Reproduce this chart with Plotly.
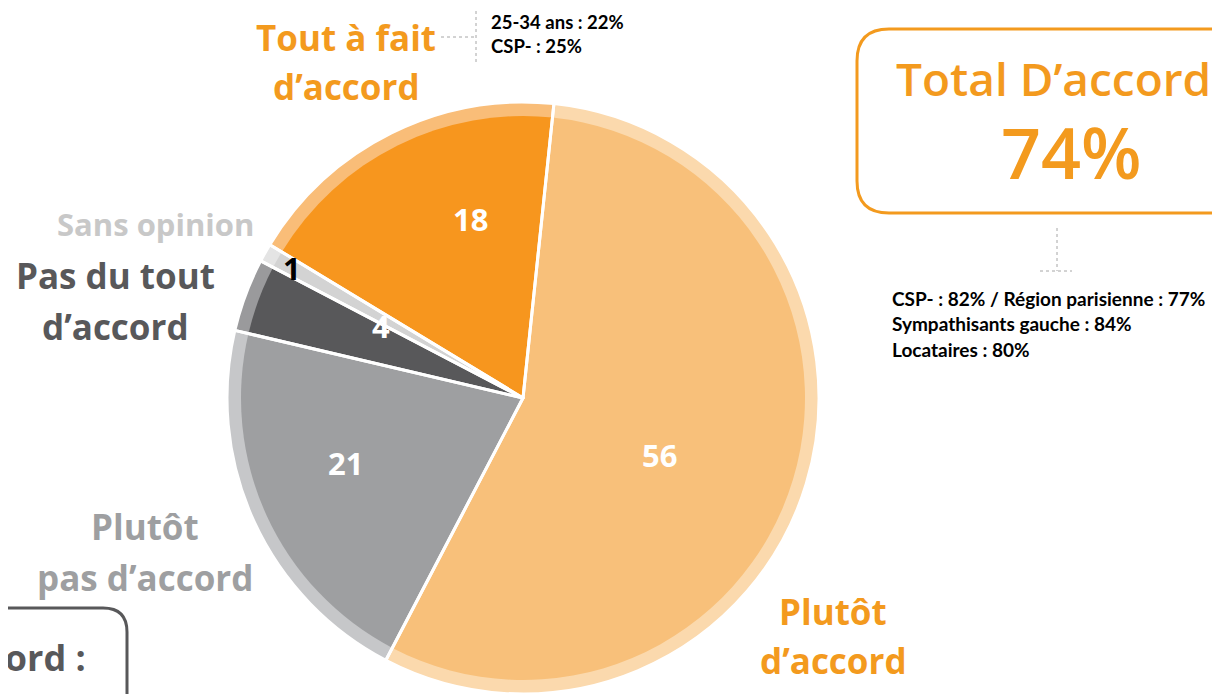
import math

import plotly.graph_objects as go

# data
labels = ["Plutôt d'accord", "Plutôt pas d'accord", "Pas du tout d'accord",
          "Sans opinion", "Tout à fait d'accord"]
values = [56, 21, 4, 1, 18]
slice_colors = ["#F8C07A", "#9E9FA1", "#58585A", "#D3D3D3", "#F7961E"]
ring_colors = ["#FBD9AD", "#C6C7C9", "#9A9A9C", "#E4E4E4", "#F9BD78"]
value_colors = ["white", "white", "white", "black", "white"]
label_radius = [0.525, 0.67, 0.565, 0.94, 0.66]  # fraction of radius for value text
label_turn = [6, 4.5, 6.5, 0, 10]                 # small angular nudge (deg)
total_agree = 74
sub_notes_top = ["25-34 ans : 22%", "CSP- : 25%"]
sub_notes_total = ["CSP- : 82% / Région parisienne : 77%",
                   "Sympathisants gauche : 84%", "Locataires : 80%"]

W, H = 1220, 694
OFF = 8                    # page body margin
CX, CY = 523, 398          # pie centre in screen pixels (from top)
R_IN, R_OUT = 282, 296
ROT = 6

ORANGE = "#F39A1E"
FONT = "Open Sans, Lato, sans-serif"
SMALL = "Lato, Open Sans, sans-serif"


def dom(r):
    cx = CX - OFF
    cy_b = H - (CY - OFF)
    return dict(x=[(cx - r) / W, (cx + r) / W],
                y=[max(0, (cy_b - r) / H), min(1, (cy_b + r) / H)])


fig = go.Figure()
# invisible trace so the pixel-coordinate axes exist
fig.add_trace(go.Scatter(x=[0], y=[0], mode="markers", marker=dict(opacity=0),
                         hoverinfo="skip", showlegend=False))
fig.add_trace(go.Pie(
    labels=labels, values=values, sort=False, direction="clockwise", rotation=ROT,
    domain=dom(R_OUT), textinfo="none", hoverinfo="skip", showlegend=False,
    marker=dict(colors=ring_colors, line=dict(color="white", width=0)),
))
fig.add_trace(go.Pie(
    labels=labels, values=values, sort=False, direction="clockwise", rotation=ROT,
    domain=dom(R_IN), textinfo="none", showlegend=False,
    marker=dict(colors=slice_colors, line=dict(color=slice_colors, width=0)),
    hovertemplate="%{label}: %{value}<extra></extra>",
))
# white separators across slice + ring
fig.add_trace(go.Pie(
    labels=labels, values=values, sort=False, direction="clockwise", rotation=ROT,
    domain=dom(R_OUT), textinfo="none", hoverinfo="skip", showlegend=False,
    marker=dict(colors=["rgba(0,0,0,0)"] * len(values), line=dict(color="white", width=3)),
))

# value labels at each slice's mid angle
total = sum(values)
cum = 0
for v, c, rf, turn in zip(values, value_colors, label_radius, label_turn):
    mid = ROT + (cum + v / 2) / total * 360 + turn
    cum += v
    a = math.radians(mid)
    fig.add_annotation(
        x=CX + rf * R_IN * math.sin(a), y=CY - rf * R_IN * math.cos(a),
        text=f"<b>{v}</b>", showarrow=False,
        font=dict(family=FONT, size=31, color=c),
    )


def big_label(x, y, text, color, size=35):
    fig.add_annotation(x=x, y=y, text=f"<b>{text}</b>", showarrow=False,
                       font=dict(family=FONT, size=size, color=color),
                       align="center")


big_label(346, 37, "Tout à fait", ORANGE)
big_label(346, 86, "d’accord", ORANGE)
big_label(155, 224, "Sans opinion", "#C8C8C8", 31)
big_label(115, 275, "Pas du tout", "#58585A")
big_label(115, 326, "d’accord", "#58585A")
big_label(145, 526, "Plutôt", "#9E9FA1")
big_label(145, 577, "pas d’accord", "#9E9FA1")
big_label(833, 611, "Plutôt", ORANGE)
big_label(833, 660, "d’accord", ORANGE)

for i, t in enumerate(sub_notes_top):
    fig.add_annotation(x=489, y=22 + i * 24, text=f"<b>{t}</b>", showarrow=False,
                       xanchor="left", font=dict(family=SMALL, size=18.5, color="black"))
for i, t in enumerate(sub_notes_total):
    fig.add_annotation(x=890, y=298 + i * 25.5, text=f"<b>{t}</b>", showarrow=False,
                       xanchor="left", font=dict(family=SMALL, size=19, color="black"))

# total box
fig.add_annotation(x=1053, y=78, text="Total D’accord", showarrow=False,
                   font=dict(family=FONT, size=46, color=ORANGE, weight=600))
fig.add_annotation(x=1071, y=152, text=f"{total_agree}%", showarrow=False,
                   font=dict(family=FONT, size=70, color=ORANGE, weight=600))
fig.add_annotation(x=88, y=657, text="<b>Total Pas d’accord :</b>", showarrow=False,
                   xanchor="right", font=dict(family=FONT, size=36, color="#58585A"))


def rounded(x0, y0, x1, y1, r):
    return (f"M {x0 + r},{y0} L {x1 - r},{y0} Q {x1},{y0} {x1},{y0 + r} "
            f"L {x1},{y1 - r} Q {x1},{y1} {x1 - r},{y1} L {x0 + r},{y1} "
            f"Q {x0},{y1} {x0},{y1 - r} L {x0},{y0 + r} Q {x0},{y0} {x0 + r},{y0} Z")


fig.add_shape(type="path", path=rounded(857, 29, 1250, 213, 32),
              line=dict(color=ORANGE, width=3))
fig.add_shape(type="path", path=rounded(-40, 608, 127, 740, 24),
              line=dict(color="#58585A", width=3))

dot = dict(color="#A6A6A6", width=1, dash="dot")
fig.add_shape(type="line", x0=441, x1=474, y0=37, y1=37, line=dot)
fig.add_shape(type="line", x0=476, x1=476, y0=5, y1=62, line=dot)
fig.add_shape(type="line", x0=1057, x1=1057, y0=228, y1=271, line=dot)
fig.add_shape(type="line", x0=1040, x1=1072, y0=271, y1=271, line=dot)

fig.update_layout(
    width=W, height=H,
    margin=dict(l=0, r=0, t=0, b=0),
    paper_bgcolor="white", plot_bgcolor="rgba(0,0,0,0)",
    xaxis=dict(range=[OFF, W + OFF], visible=False, fixedrange=True),
    yaxis=dict(range=[H + OFF, OFF], visible=False, fixedrange=True),
    showlegend=False,
)
fig.write_html("out.html")
